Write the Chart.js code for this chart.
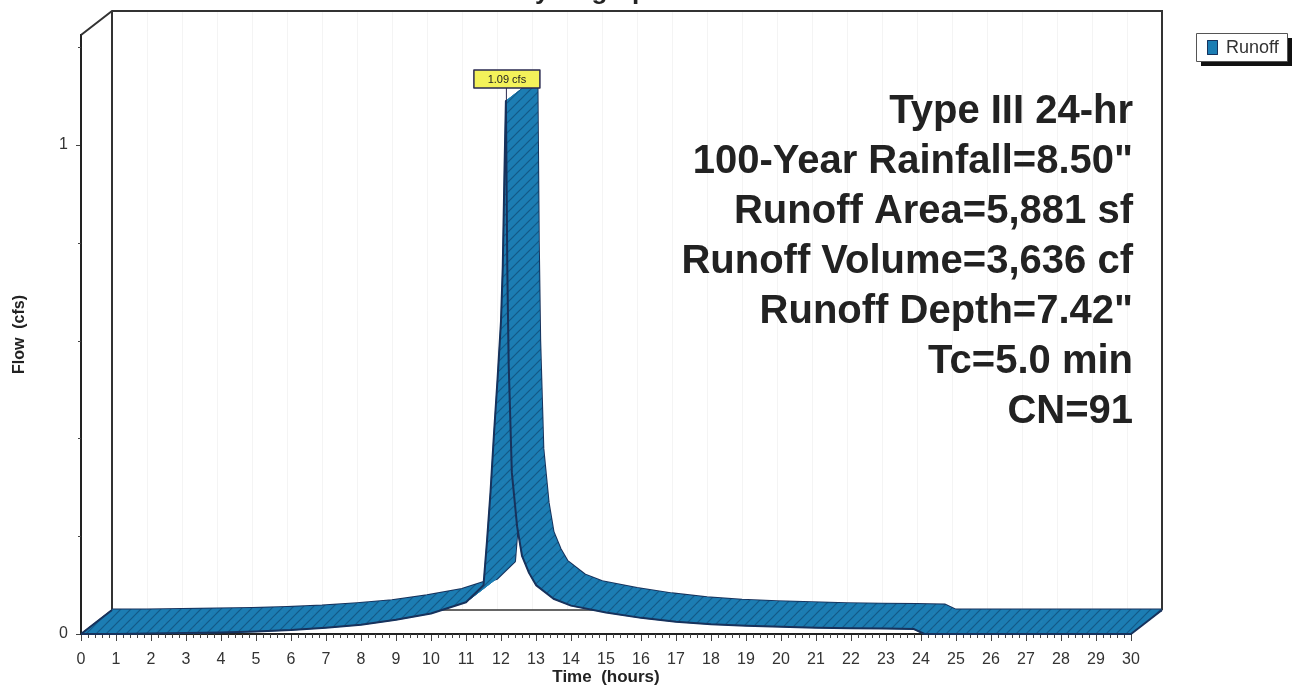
<!DOCTYPE html>
<html>
<head>
<meta charset="utf-8">
<title>Hydrograph</title>
<script src="https://cdn.jsdelivr.net/npm/chart.js@4.4.1/dist/chart.umd.min.js"></script>
<style>
  html, body { margin: 0; padding: 0; background: #fff; }
  canvas { display: block; }
</style>
</head>
<body>
<canvas id="hydroChart" width="1294" height="687"></canvas>
<script>
const hours = [0, 1, 2, 3, 4, 5, 6, 7, 8, 9, 10, 11, 11.5, 11.6, 11.7, 11.8, 11.9, 12.0, 12.05, 12.1, 12.14,
  12.18, 12.22, 12.31, 12.46, 12.6, 12.8, 13.0, 13.5, 14, 15, 16, 17, 18, 19, 20, 21, 22, 23, 23.8, 24.1,
  25, 26, 27, 28, 29, 30];
const flowCfs = [0, 0, 0.001, 0.002, 0.003, 0.005, 0.008, 0.013, 0.019, 0.029, 0.042, 0.065, 0.10, 0.19, 0.29,
  0.41, 0.52, 0.64, 0.75, 0.95, 1.09, 0.75, 0.55, 0.33, 0.22, 0.16, 0.125, 0.10, 0.072, 0.058, 0.044, 0.033,
  0.025, 0.020, 0.017, 0.015, 0.013, 0.012, 0.011, 0.010, 0, 0, 0, 0, 0, 0, 0];
const seriesName = "Runoff";
const peakLabel = "1.09 cfs";
const infoLines = [
  "Type III 24-hr",
  "100-Year Rainfall=8.50\"",
  "Runoff Area=5,881 sf",
  "Runoff Volume=3,636 cf",
  "Runoff Depth=7.42\"",
  "Tc=5.0 min",
  "CN=91"
];
const xRange = [0, 30];
const yRange = [0, 1.225];

// ---------- Look ----------
const FONT = "'Liberation Sans', Arial, sans-serif";
const DX = 31, DY = -24;          // depth offset of the 3D box
const EDGE = "#17325c";
const FILL = "#1c7db3";

function hatch() {
  const c = document.createElement("canvas");
  c.width = c.height = 10;
  const g = c.getContext("2d");
  g.fillStyle = FILL;
  g.fillRect(0, 0, 10, 10);
  g.strokeStyle = "rgba(12,60,100,0.55)";
  g.lineWidth = 1.2;
  g.beginPath();
  g.moveTo(0, 10); g.lineTo(10, 0);
  g.moveTo(-1, 1); g.lineTo(1, -1);
  g.moveTo(9, 11); g.lineTo(11, 9);
  g.stroke();
  return c;
}

function seg(ctx, x1, y1, x2, y2) {
  ctx.beginPath();
  ctx.moveTo(x1, y1);
  ctx.lineTo(x2, y2);
  ctx.stroke();
}

const box3d = {
  id: "box3d",
  beforeDatasetsDraw(chart) {
    const { ctx, chartArea: a, scales: { x, y } } = chart;
    ctx.save();
    // faint gridlines on the back wall
    ctx.strokeStyle = "rgba(0,0,0,0.045)";
    ctx.lineWidth = 1;
    for (let h = xRange[0] + 1; h < xRange[1]; h++) {
      const px = Math.round(x.getPixelForValue(h)) + DX + 0.5;
      seg(ctx, px, a.top + DY, px, a.bottom + DY);
    }
    // back wall + side edges
    ctx.strokeStyle = "#333";
    ctx.lineWidth = 2;
    ctx.beginPath();
    ctx.moveTo(a.left, a.top);
    ctx.lineTo(a.left + DX, a.top + DY);
    ctx.lineTo(a.right + DX, a.top + DY);
    ctx.lineTo(a.right + DX, a.bottom + DY);
    ctx.stroke();
    seg(ctx, a.left + DX, a.top + DY, a.left + DX, a.bottom + DY);
    ctx.lineWidth = 1.5;
    seg(ctx, a.left + DX, a.bottom + DY, a.right + DX, a.bottom + DY);
    seg(ctx, a.left, a.bottom, a.left + DX, a.bottom + DY);

    // minor ticks every 0.2
    ctx.strokeStyle = "#444";
    ctx.lineWidth = 1;
    for (let i = 1; i < (xRange[1] - xRange[0]) * 5; i++) {
      if (i % 5 === 0) continue;
      const px = Math.round(x.getPixelForValue(xRange[0] + i / 5)) + 0.5;
      seg(ctx, px, a.bottom, px, a.bottom + 4);
    }
    for (let i = 1; i <= 6; i++) {
      if (i % 5 === 0) continue;
      const py = Math.round(y.getPixelForValue(i / 5)) + 0.5;
      seg(ctx, a.left - 3, py, a.left, py);
    }
    ctx.restore();
  },
  afterDatasetsDraw(chart) {
    const { ctx, chartArea: a } = chart;
    const front = chart.getDatasetMeta(0).data.map((p) => ({ x: p.x, y: p.y }));
    const back = front.map((p) => ({ x: p.x + DX, y: p.y + DY }));
    const pat = ctx.createPattern(hatch(), "repeat");
    ctx.save();
    ctx.lineJoin = "round";

    // back edge first, the ribbon covers its hidden parts
    ctx.strokeStyle = EDGE;
    ctx.lineWidth = 3;
    ctx.beginPath();
    back.forEach((p, i) => (i ? ctx.lineTo(p.x, p.y) : ctx.moveTo(p.x, p.y)));
    ctx.stroke();

    // ribbon faces
    ctx.fillStyle = pat;
    ctx.strokeStyle = pat;
    ctx.lineWidth = 1;
    for (let i = 0; i < front.length - 1; i++) {
      ctx.beginPath();
      ctx.moveTo(front[i].x, front[i].y);
      ctx.lineTo(front[i + 1].x, front[i + 1].y);
      ctx.lineTo(back[i + 1].x, back[i + 1].y);
      ctx.lineTo(back[i].x, back[i].y);
      ctx.closePath();
      ctx.fill();
      ctx.stroke();
    }

    // front edge and ends
    ctx.strokeStyle = EDGE;
    ctx.lineWidth = 2;
    ctx.beginPath();
    front.forEach((p, i) => (i ? ctx.lineTo(p.x, p.y) : ctx.moveTo(p.x, p.y)));
    ctx.stroke();
    const n = front.length - 1;
    seg(ctx, front[0].x, front[0].y, back[0].x, back[0].y);
    seg(ctx, front[n].x, front[n].y, back[n].x, back[n].y);

    // peak label
    let k = 0;
    flowCfs.forEach((v, i) => { if (v > flowCfs[k]) k = i; });
    const pk = front[k];
    ctx.strokeStyle = "#2a2a50";
    ctx.lineWidth = 1;
    seg(ctx, pk.x + 0.5, pk.y, pk.x + 0.5, pk.y - 13);
    ctx.fillStyle = "#f4f25a";
    ctx.fillRect(pk.x - 32, pk.y - 31, 66, 18);
    ctx.lineWidth = 1.5;
    ctx.strokeRect(pk.x - 32, pk.y - 31, 66, 18);
    ctx.fillStyle = "#222";
    ctx.font = "11px " + FONT;
    ctx.textAlign = "center";
    ctx.textBaseline = "middle";
    ctx.fillText(peakLabel, pk.x + 1, pk.y - 21.5);

    // storm summary
    ctx.fillStyle = "#222";
    ctx.font = "bold 40px " + FONT;
    ctx.textAlign = "right";
    ctx.textBaseline = "alphabetic";
    infoLines.forEach((t, i) => ctx.fillText(t, a.right + 2, a.top + 88 + i * 50));

    // title, mostly cut off by the top edge
    ctx.font = "bold 26px " + FONT;
    ctx.textAlign = "center";
    ctx.fillText("Hydrograph", 590, -1);

    // legend
    const lx = 1196, ly = 33, lw = 91, lh = 28;
    ctx.fillStyle = "#111";
    ctx.fillRect(lx + 5, ly + 5, lw, lh);
    ctx.fillStyle = "#fff";
    ctx.fillRect(lx, ly, lw, lh);
    ctx.strokeStyle = "#555";
    ctx.lineWidth = 1;
    ctx.strokeRect(lx + 0.5, ly + 0.5, lw, lh);
    ctx.fillStyle = FILL;
    ctx.fillRect(lx + 11, ly + 7, 11, 15);
    ctx.strokeStyle = EDGE;
    ctx.strokeRect(lx + 11.5, ly + 7.5, 10, 14);
    ctx.fillStyle = "#333";
    ctx.font = "18px " + FONT;
    ctx.textAlign = "left";
    ctx.textBaseline = "middle";
    ctx.fillText(seriesName, lx + 30, ly + 15);
    ctx.restore();
  }
};

Chart.defaults.font.family = FONT;
Chart.defaults.color = "#333";

new Chart(document.getElementById("hydroChart"), {
  type: "line",
  data: {
    datasets: [{
      label: seriesName,
      data: hours.map((h, i) => ({ x: h, y: flowCfs[i] })),
      showLine: false,
      pointRadius: 0,
      borderWidth: 0
    }]
  },
  options: {
    responsive: false,
    animation: false,
    devicePixelRatio: 1,
    layout: { padding: { top: 35, right: 163, left: 0, bottom: 0 } },
    plugins: { legend: { display: false }, tooltip: { enabled: false } },
    scales: {
      x: {
        type: "linear",
        min: xRange[0],
        max: xRange[1],
        afterFit: (s) => { s.height = 53; },
        grid: { drawOnChartArea: false, drawTicks: true, tickLength: 7, color: "#444" },
        border: { color: "#222", width: 2 },
        ticks: { stepSize: 1, autoSkip: false, maxRotation: 0, padding: 9, font: { size: 16 }, color: "#333" },
        title: { display: true, text: "Time  (hours)", font: { size: 17, weight: "bold" }, padding: { top: 0, bottom: -1 }, color: "#222" }
      },
      y: {
        min: yRange[0],
        max: yRange[1],
        afterFit: (s) => { s.width = 81; },
        grid: { drawOnChartArea: false, drawTicks: true, tickLength: 5, color: "#444" },
        border: { color: "#222", width: 2 },
        ticks: { stepSize: 1, includeBounds: false, padding: 8, font: { size: 16 }, color: "#333" },
        title: { display: true, text: "Flow  (cfs)", font: { size: 16, weight: "bold" }, padding: { top: 10, bottom: 0 }, color: "#222" }
      }
    }
  },
  plugins: [box3d]
});
</script>
</body>
</html>
